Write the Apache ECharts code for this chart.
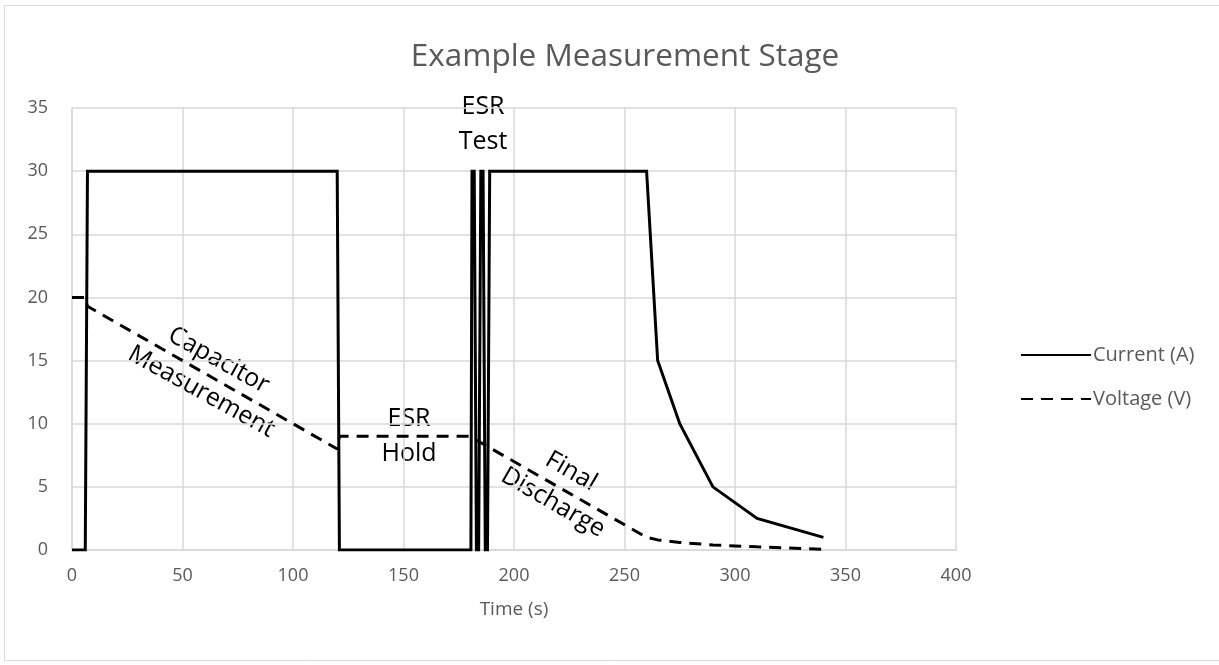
<!DOCTYPE html>
<html>
<head>
<meta charset="utf-8">
<script src="https://cdn.jsdelivr.net/npm/echarts@6/dist/echarts.min.js"></script>
<style>
html,body{margin:0;padding:0;background:#fff;}
#main{width:1219px;height:665px;}
</style>
</head>
<body>
<div id="main"></div>
<script>
// Data
const seriesNames = ['Current (A)', 'Voltage (V)'];
const currentTime = [0, 6, 7, 120, 121, 180.5, 181, 182, 183, 184, 185, 186, 187, 188, 189, 260, 265, 275, 290, 310, 340];
const currentVals = [0, 0, 30, 30, 0, 0, 30, 30, 0, 0, 30, 30, 0, 0, 30, 30, 15, 10, 5, 2.5, 1];
const voltageTime = [0, 6, 7, 120, 121, 180, 260, 265, 275, 290, 310, 340];
const voltageVals = [20, 20, 19.3, 8, 9, 9, 1, 0.8, 0.6, 0.4, 0.25, 0.05];
const xTicks = [0, 50, 100, 150, 200, 250, 300, 350, 400];
const yTicks = [0, 5, 10, 15, 20, 25, 30, 35];

const font = 'Open Sans';
const grey = '#595959';

const chart = echarts.init(document.getElementById('main'));
chart.setOption({
  animation: false,
  backgroundColor: '#fff',
  title: {
    text: 'Example Measurement Stage',
    left: 620, top: 36, textAlign: 'center',
    textStyle: {fontFamily: font, fontSize: 31.5, fontWeight: 'normal', color: grey}
  },
  legend: {
    orient: 'vertical', left: 1015, top: 340,
    itemWidth: 70, itemHeight: 20, itemGap: 24,
    data: seriesNames,
    itemStyle: {color: 'transparent', borderColor: 'transparent', borderWidth: 0},
    textStyle: {fontFamily: font, fontSize: 20, color: grey, padding: [0,0,0,-3]}
  },
  grid: {left: 72, right: 263, top: 108, bottom: 115},
  xAxis: {
    type: 'value', min: xTicks[0], max: xTicks[xTicks.length-1], interval: 50,
    name: 'Time (s)', nameLocation: 'middle', nameGap: 50,
    nameTextStyle: {fontFamily: font, fontSize: 19, color: grey},
    axisLine: {lineStyle: {color: '#d9d9d9', width: 1.5}},
    axisTick: {show: false},
    axisLabel: {fontFamily: font, fontSize: 18, color: grey, margin: 17},
    splitLine: {show: true, lineStyle: {color: '#d9d9d9', width: 1.5}}
  },
  yAxis: {
    type: 'value', min: yTicks[0], max: yTicks[yTicks.length-1], interval: 5,
    axisLine: {show: true, lineStyle: {color: '#d9d9d9', width: 1.5}},
    axisTick: {show: false},
    axisLabel: {fontFamily: font, fontSize: 18, color: grey, margin: 24},
    splitLine: {show: true, lineStyle: {color: '#d9d9d9', width: 1.5}}
  },
  series: [
    {
      name: seriesNames[0], type: 'line', symbol: 'none',
      data: currentTime.map((t, i) => [t, currentVals[i]]),
      lineStyle: {color: '#000', width: 3, join: 'miter'},
      itemStyle: {color: '#000'}, z: 3
    },
    {
      name: seriesNames[1], type: 'line', symbol: 'none',
      data: voltageTime.map((t, i) => [t, voltageVals[i]]),
      lineStyle: {color: '#000', width: 3, type: [12, 8]},
      itemStyle: {color: '#000'}, z: 2
    }
  ],
  graphic: [
    {type: 'rect', shape: {x: 4.5, y: 5.5, width: 1230, height: 655}, style: {fill: 'none', stroke: '#d9d9d9', lineWidth: 1}, silent: true, z: -10},
    {type: 'text', x: 210, y: 376, rotation: -29 * Math.PI / 180,
     style: {text: 'Capacitor\nMeasurement', fontFamily: font, fontSize: 25, fill: '#000', align: 'center', verticalAlign: 'middle', lineHeight: 36}},
    {type: 'text', x: 409, y: 436,
     style: {text: 'ESR\nHold', fontFamily: font, fontSize: 25, fill: '#000', align: 'center', verticalAlign: 'middle', lineHeight: 35}},
    {type: 'text', x: 483, y: 124,
     style: {text: 'ESR\nTest', fontFamily: font, fontSize: 25, fill: '#000', align: 'center', verticalAlign: 'middle', lineHeight: 35}},
    {type: 'text', x: 562, y: 487, rotation: -30 * Math.PI / 180,
     style: {text: 'Final\nDischarge', fontFamily: font, fontSize: 25, fill: '#000', align: 'center', verticalAlign: 'middle', lineHeight: 36}}
  ]
});
</script>
</body>
</html>
